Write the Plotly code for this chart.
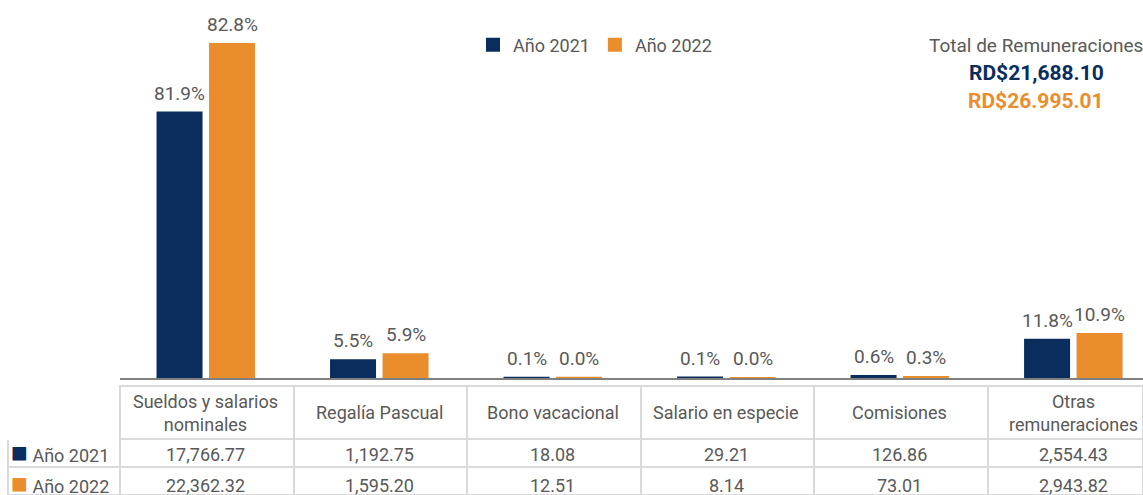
import plotly.graph_objects as go

categories = ["Sueldos y salarios<br>nominales", "Regalía Pascual", "Bono vacacional",
              "Salario en especie", "Comisiones", "Otras<br>remuneraciones"]
values_2021 = [17766.77, 1192.75, 18.08, 29.21, 126.86, 2554.43]
values_2022 = [22362.32, 1595.20, 12.51, 8.14, 73.01, 2943.82]
pct_2021 = ["81.9%", "5.5%", "0.1%", "0.1%", "0.6%", "11.8%"]
pct_2022 = ["82.8%", "5.9%", "0.0%", "0.0%", "0.3%", "10.9%"]
series_names = ["Año 2021", "Año 2022"]
total_title = "Total de Remuneraciones"
total_2021 = "RD$21,688.10"
total_2022 = "RD$26.995.01"

NAVY = "#0a2d5e"
ORANGE = "#e98d2d"
GRAY = "#595959"
GRID = "#dadada"
FONT = "Roboto, Arial, sans-serif"

W, H = 1143, 495
x = list(range(len(categories)))
pxu = 173.5  # pixels per category unit
py = lambda p: 1 - p / H  # pixel row -> paper y

fig = go.Figure()
fig.add_trace(go.Bar(x=x, y=values_2021, name=series_names[0],
                     marker=dict(color=NAVY, line=dict(color=NAVY, width=2)),
                     width=44 / pxu, offset=-48 / pxu, hoverinfo="skip"))
fig.add_trace(go.Bar(x=x, y=values_2022, name=series_names[1],
                     marker=dict(color=ORANGE, line=dict(color=ORANGE, width=2)),
                     width=44 / pxu, offset=4.5 / pxu, hoverinfo="skip"))

lab_font = dict(family=FONT, size=19, color=GRAY)
txt_font = dict(family=FONT, size=18, color=GRAY)
annotations = []
for i in x:
    annotations.append(dict(x=i, y=values_2021[i], xref="x", yref="y", text=pct_2021[i],
                            showarrow=False, xshift=-26, yshift=6, yanchor="bottom",
                            font=lab_font))
    annotations.append(dict(x=i, y=values_2022[i], xref="x", yref="y", text=pct_2022[i],
                            showarrow=False, xshift=26.5, yshift=6, yanchor="bottom",
                            font=lab_font))

# totals block (top right)
xc = 1036 / W
annotations += [
    dict(x=xc, y=py(45), xref="paper", yref="paper", text=total_title,
         showarrow=False, xanchor="center", yanchor="middle",
         font=dict(family=FONT, size=19, color=GRAY)),
    dict(x=xc, y=py(73), xref="paper", yref="paper", text="<b>" + total_2021 + "</b>",
         showarrow=False, xanchor="center", yanchor="middle",
         font=dict(family=FONT, size=21, color=NAVY)),
    dict(x=xc, y=py(101), xref="paper", yref="paper", text="<b>" + total_2022 + "</b>",
         showarrow=False, xanchor="center", yanchor="middle",
         font=dict(family=FONT, size=21, color=ORANGE)),
]

# data table: grid from go.Table, texts aligned on the category axis
fmt = lambda v: f"{v:,.2f}"
row_colors = [NAVY, ORANGE]
row_values = [values_2021, values_2022]
row_y = [454.5, 485.5]
for i in x:
    annotations.append(dict(x=i, y=py(412.5), xref="x", yref="paper", text=categories[i],
                            showarrow=False, xanchor="center", yanchor="middle", align="center",
                            font=txt_font))
    for r in range(2):
        annotations.append(dict(x=i, y=py(row_y[r]), xref="x", yref="paper",
                                text=fmt(row_values[r][i]), showarrow=False,
                                xanchor="center", yanchor="middle", font=txt_font))
for r in range(2):
    annotations.append(dict(x=9 / W, y=py(row_y[r] - 2), xref="paper", yref="paper",
                            text=f"<span style='color:{row_colors[r]};font-size:28px'>■</span> {series_names[r]}",
                            showarrow=False, xanchor="left", yanchor="middle", font=txt_font))

col_w = [112] + [pxu] * 5 + [W - 8 - 112 - 5 * pxu]
fig.add_trace(go.Table(
    domain=dict(x=[8 / W, 1], y=[0, 109 / H]),
    columnwidth=col_w,
    header=dict(values=[""] * 7, height=52.5,
                fill=dict(color="rgba(0,0,0,0)"),
                line=dict(color=["white"] + [GRID] * 6, width=2)),
    cells=dict(values=[["", ""]] * 7, height=28.2,
               fill=dict(color="rgba(0,0,0,0)"),
               line=dict(color=GRID, width=2)),
    hoverinfo="skip",
))

fig.update_layout(
    width=W, height=H, autosize=False,
    margin=dict(l=0, r=0, t=0, b=0, autoexpand=False),
    paper_bgcolor="white", plot_bgcolor="white",
    barmode="overlay",
    showlegend=True,
    legend=dict(orientation="h", xref="paper", yref="paper",
                x=473 / W, y=py(26.5), xanchor="left", yanchor="top",
                font=dict(family=FONT, size=18, color=GRAY),
                bgcolor="rgba(0,0,0,0)", itemclick=False, itemdoubleclick=False),
    xaxis=dict(domain=[120 / W, 1], range=[-0.493, 5.403], showgrid=False,
               zeroline=False, showline=True, linecolor="#808080", linewidth=2,
               showticklabels=False, ticks="", fixedrange=True),
    yaxis=dict(domain=[117 / H, 1], range=[0, 25300], visible=False, fixedrange=True),
    annotations=annotations,
)

fig.write_html("out.html", config={"displayModeBar": False},
               post_script="document.body.style.margin='0';document.body.style.overflow='hidden';")
